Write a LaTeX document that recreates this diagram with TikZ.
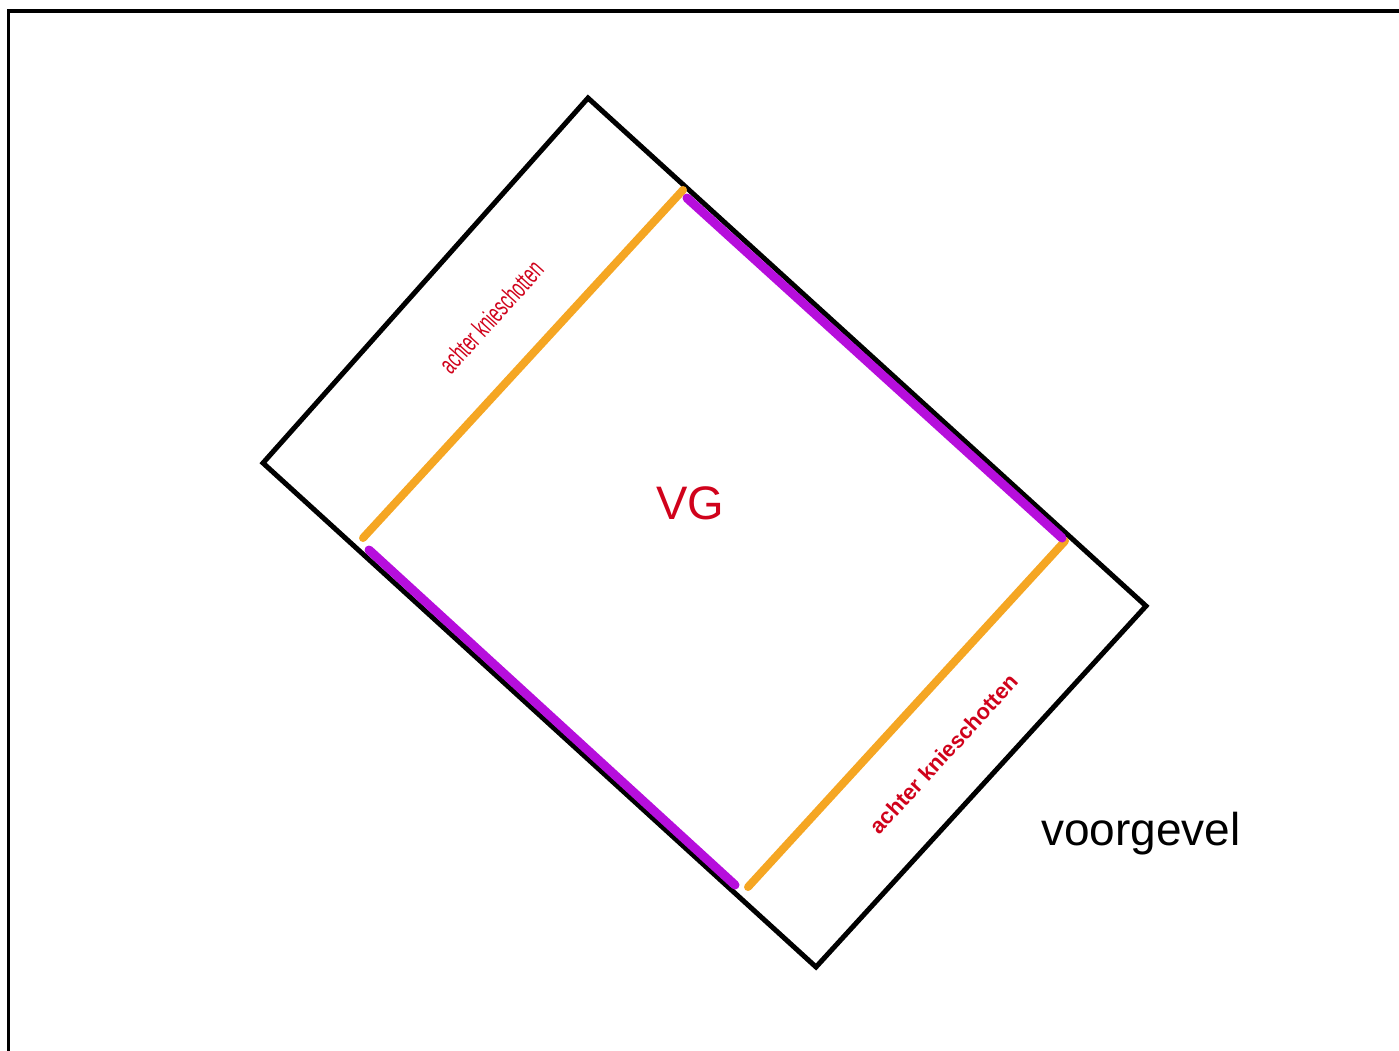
\documentclass[tikz,border=0pt]{standalone}
\usepackage{fontspec}
\setmainfont{Liberation Sans}
\definecolor{kneeorange}{HTML}{F5A623}
\definecolor{wallpurple}{HTML}{B60EDC}
\definecolor{labelred}{HTML}{D0021B}
\begin{document}
\begin{tikzpicture}[x=1pt,y=-1pt,
  outline/.style={line width=5pt,black,line join=miter},
  kneewall/.style={line width=8pt,kneeorange,line cap=round},
  wallline/.style={line width=9pt,wallpurple,line cap=round},
  redlabel/.style={text=labelred,inner sep=0pt}]
\useasboundingbox (0,0) rectangle (1399,1050);
\clip (0,0) rectangle (1399,1050);
% frame
\draw[line width=3.5pt] (8.5,1060) -- (8.5,11) -- (1410,11);
% rotated floor outline
\coordinate (T) at (588,98);
\coordinate (L) at (263,463);
\coordinate (B) at (816,967);
\coordinate (R) at (1146,606);
\draw[outline] (T) -- (R) -- (B) -- (L) -- cycle;
% knee walls
\coordinate (o1a) at (363,538); \coordinate (o1b) at (683,190);
\coordinate (o2a) at (748,887); \coordinate (o2b) at (1065,541);
\draw[kneewall] (o1a) -- (o1b);
\draw[kneewall] (o2a) -- (o2b);
% purple walls
\coordinate (p1a) at (687,198); \coordinate (p1b) at (1062,538);
\coordinate (p2a) at (369,550); \coordinate (p2b) at (735,885);
\draw[wallline] (p1a) -- (p1b);
\draw[wallline] (p2a) -- (p2b);
% labels
\node[redlabel,rotate=48,xscale=0.6,font=\fontsize{27}{27}\selectfont] (lab1) at (491,317) {achter knieschotten};
\node[redlabel,rotate=47.5,font=\fontsize{22}{22}\selectfont\bfseries] (lab2) at (944,754) {achter knieschotten};
\node[redlabel,anchor=base,font=\fontsize{47}{47}\selectfont] (vg) at (690,519) {VG};
\node[inner sep=0pt,anchor=base,font=\fontsize{46}{46}\selectfont] (vgv) at (1141,845) {voorgevel};
\end{tikzpicture}
\end{document}
